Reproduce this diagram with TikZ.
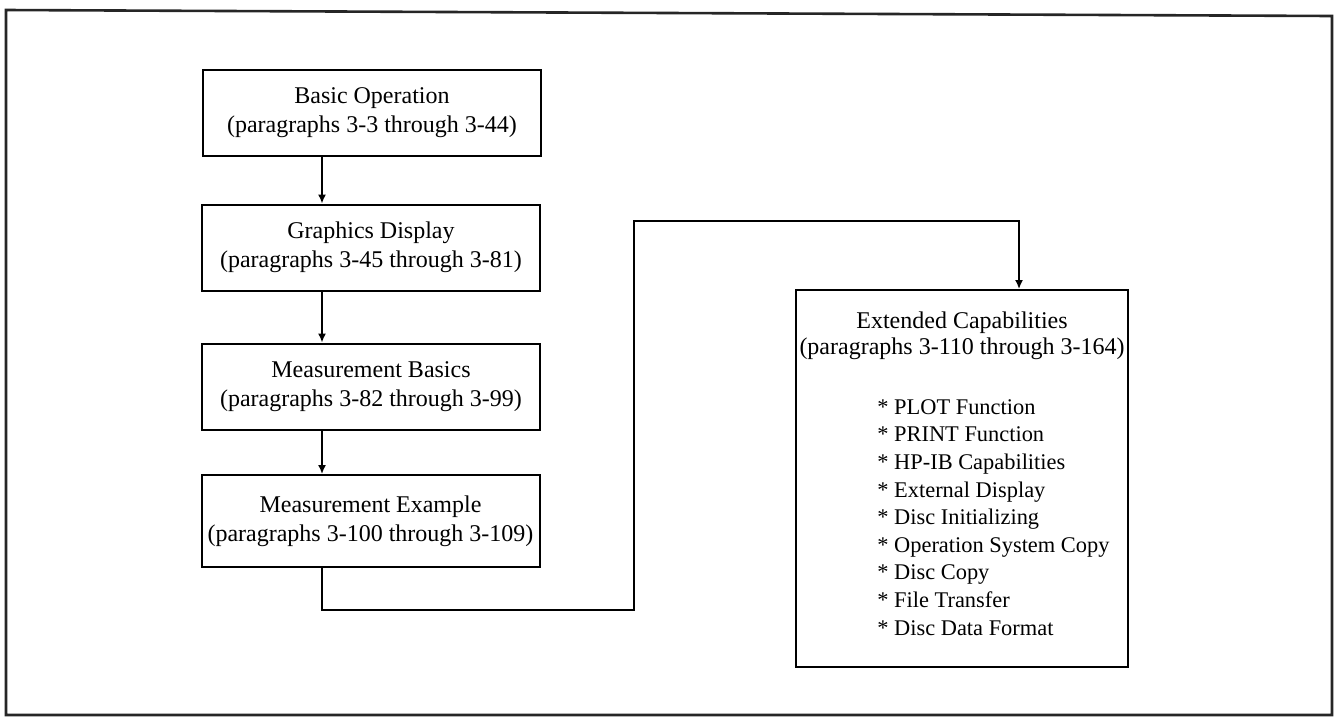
\documentclass[tikz,border=0pt]{standalone}
\usepackage{fontspec}
\setmainfont{Liberation Serif}
\usetikzlibrary{calc,arrows.meta}
\newcommand{\BoxW}{169pt}
\newcommand{\BoxH}{43pt}
\tikzset{Box/.style={
    inner sep=0pt,
    minimum width=\BoxW,
    minimum height=\BoxH,
    draw=black,
    line width=1pt,
    align=center,
    font=\fontsize{12}{14.5}\selectfont,
    }
}

\begin{document}
\begin{tikzpicture}[x=0.5pt,y=-0.5pt,
    link/.style={draw=black, line width=0.8pt},
    arr/.style={link, -{Latex[length=4.5pt,width=4pt]}},
    item/.style={inner sep=0pt, align=left, font=\fontsize{11.2}{13.8}\selectfont},
]
\useasboundingbox (0,0) rectangle (1336,719);
\draw[line width=1.3pt, black!85] (6,10) -- (1332,16) -- (1332,715) -- (6,715) -- cycle;

\node [Box] (basic)    at (372,113)   {Basic Operation\\(paragraphs 3-3 through 3-44)};
\node [Box] (graphics) at (371,247.5) {Graphics Display\\(paragraphs 3-45 through 3-81)};
\node [Box] (basics)   at (371,386.5) {Measurement Basics\\(paragraphs 3-82 through 3-99)};
\node [Box, minimum height=46pt] (example) at (370.5,521)
      {Measurement Example\\(paragraphs 3-100 through 3-109)};

\node [Box, minimum width=166pt, minimum height=188.5pt] (ext) at (962,478.5) {};
\node [Box, draw=none, minimum height=0pt, font=\fontsize{12}{13}\selectfont] (exttitle) at (962,336)
      {Extended Capabilities\\(paragraphs 3-110 through 3-164)};
\node [item, anchor=north west] (extlist) at (877,399)
      {* PLOT Function\\* PRINT Function\\* HP-IB Capabilities\\* External Display\\
       * Disc Initializing\\* Operation System Copy\\* Disc Copy\\* File Transfer\\
       * Disc Data Format};

% left column of arrows
\coordinate (ax) at (322,0);
\coordinate (bendlow) at (634,610);
\coordinate (bendhigh) at (634,221);
\coordinate (ex) at (1019,0);
\draw[arr] (basic.south -| ax) -- (graphics.north -| ax);
\draw[arr] (graphics.south -| ax) -- (basics.north -| ax);
\draw[arr] (basics.south -| ax) -- (example.north -| ax);
\draw[arr] (example.south -| ax) |- (bendlow) -- (bendhigh) -| (ext.north -| ex);
\end{tikzpicture}
\end{document}
